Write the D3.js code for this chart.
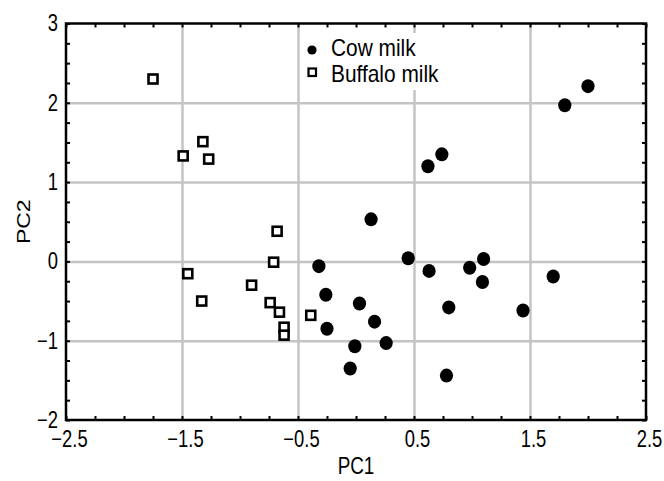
<!DOCTYPE html>
<html>
<head>
<meta charset="utf-8">
<script src="https://cdn.jsdelivr.net/npm/d3@7"></script>
<style>
  html, body { margin: 0; padding: 0; background: #fff; }
  svg { display: block; }
  text { font-family: "Liberation Sans", Arial, sans-serif; fill: #000; }
</style>
</head>
<body>
<svg id="chart" width="664" height="481"></svg>
<script>
// ---- data ----
const cowPC1 = [2.00, 1.80, 0.62, 0.74, 0.13, 0.45, -0.32, 0.63, 0.98, 1.10, 1.09, 1.70, 1.44, 0.80, -0.26, 0.03, 0.16, -0.25, 0.26, -0.01, -0.05, 0.78];
const cowPC2 = [2.21, 1.97, 1.20, 1.35, 0.53, 0.04, -0.06, -0.12, -0.08, 0.03, -0.26, -0.19, -0.62, -0.58, -0.42, -0.53, -0.76, -0.85, -1.03, -1.07, -1.35, -1.44];
const buffaloPC1 = [-1.75, -1.32, -1.49, -1.27, -0.68, -0.71, -1.45, -1.33, -0.90, -0.74, -0.66, -0.62, -0.62, -0.39];
const buffaloPC2 = [2.30, 1.51, 1.33, 1.29, 0.38, -0.01, -0.155, -0.50, -0.30, -0.52, -0.64, -0.83, -0.93, -0.68];
const xTickLabels = [-2.5, -1.5, -0.5, 0.5, 1.5, 2.5];
const yTickLabels = [-2, -1, 0, 1, 2, 3];
const xGrid = [-1.5, -0.5, 0.5, 1.5];
const yGrid = [-1, 0, 1, 2];
const seriesNames = ["Cow milk", "Buffalo milk"];

// ---- layout ----
const W = 664, H = 481;
const m = { left: 66, right: 18, top: 23.5, bottom: 61 };
const svg = d3.select("#chart");
const x = d3.scaleLinear().domain([-2.5, 2.5]).range([m.left, W - m.right]);
const y = d3.scaleLinear().domain([-2, 3]).range([H - m.bottom, m.top]);
const pw = W - m.left - m.right, ph = H - m.top - m.bottom;

// condense text horizontally (reference uses a narrow face)
function condense(sel, sx, dx) {
  sel.each(function () {
    const t = d3.select(this);
    const tx = +(t.attr("x") || 0) + (dx || 0), ty = +(t.attr("y") || 0);
    t.attr("x", 0).attr("y", 0).attr("transform", `translate(${tx},${ty}) scale(${sx},1)`);
  });
}

// gridlines
const grid = svg.append("g");
grid.append("g").attr("transform", `translate(0,${H - m.bottom})`)
  .call(d3.axisBottom(x).tickValues(xGrid).tickSize(-ph).tickFormat(""))
  .call(g => g.select(".domain").remove())
  .call(g => g.selectAll("line").attr("stroke", "#c4c4c4").attr("stroke-width", 2.5));
grid.append("g").attr("transform", `translate(${m.left},0)`)
  .call(d3.axisLeft(y).tickValues(yGrid).tickSize(-pw).tickFormat(""))
  .call(g => g.select(".domain").remove())
  .call(g => g.selectAll("line").attr("stroke", "#c4c4c4").attr("stroke-width", 2.5));

// legend background box
const lg = svg.append("g");
lg.append("rect").attr("x", 302).attr("y", 33).attr("width", 150).attr("height", 57).attr("fill", "#fff");

// minor inward ticks on all sides
const minorX = d3.range(-2.5, 2.5001, 0.25);
const minorY = d3.range(-2, 3.0001, 0.25);
function styleMinor(g) {
  g.select(".domain").remove();
  g.selectAll("line").attr("stroke", "#000").attr("stroke-width", 2);
}
svg.append("g").attr("transform", `translate(0,${H - m.bottom})`)
  .call(d3.axisBottom(x).tickValues(minorX).tickSize(-4).tickFormat("")).call(styleMinor);
svg.append("g").attr("transform", `translate(0,${m.top})`)
  .call(d3.axisTop(x).tickValues(minorX).tickSize(-4).tickFormat("")).call(styleMinor);
svg.append("g").attr("transform", `translate(${m.left},0)`)
  .call(d3.axisLeft(y).tickValues(minorY).tickSize(-4).tickFormat("")).call(styleMinor);
svg.append("g").attr("transform", `translate(${W - m.right},0)`)
  .call(d3.axisRight(y).tickValues(minorY).tickSize(-4).tickFormat("")).call(styleMinor);

// frame
svg.append("rect").attr("x", m.left).attr("y", m.top).attr("width", pw).attr("height", ph)
  .attr("fill", "none").attr("stroke", "#000").attr("stroke-width", 2.5);

// tick labels
const fmtX = d3.format(".1f"), fmtY = d3.format("d");
svg.append("g").attr("transform", `translate(0,${H - m.bottom})`)
  .call(d3.axisBottom(x).tickValues(xTickLabels).tickSize(0).tickPadding(11).tickFormat(fmtX))
  .call(g => g.select(".domain").remove())
  .call(g => g.selectAll("text").attr("font-size", 23).style("font-family", null).attr("fill", "#000").call(condense, 0.8, 3));
svg.append("g").attr("transform", `translate(${m.left},0)`)
  .call(d3.axisLeft(y).tickValues(yTickLabels).tickSize(0).tickPadding(8).tickFormat(fmtY))
  .call(g => g.select(".domain").remove())
  .call(g => g.selectAll("text").attr("font-size", 23).style("font-family", null).attr("fill", "#000").call(condense, 0.8, 0));

// axis titles
svg.append("text").attr("x", m.left + pw / 2).attr("y", 474).attr("text-anchor", "middle")
  .attr("font-size", 23).text("PC1").call(condense, 0.82, 0);
svg.append("text").attr("transform", `translate(30,${m.top + ph / 2}) rotate(-90) scale(1,0.82)`)
  .attr("text-anchor", "middle").attr("font-size", 23).text("PC2");

// points
const cow = cowPC1.map((v, i) => ({ x: v, y: cowPC2[i] }));
const buf = buffaloPC1.map((v, i) => ({ x: v, y: buffaloPC2[i] }));
svg.append("g").selectAll("ellipse").data(cow).join("ellipse")
  .attr("cx", d => x(d.x)).attr("cy", d => y(d.y)).attr("rx", 6.6).attr("ry", 7).attr("fill", "#000");
const s = 9;
svg.append("g").selectAll("rect").data(buf).join("rect")
  .attr("x", d => x(d.x) - s / 2).attr("y", d => y(d.y) - s / 2).attr("width", s).attr("height", s)
  .attr("fill", "#fff").attr("stroke", "#000").attr("stroke-width", 2.6);

// legend
lg.append("circle").attr("cx", 312).attr("cy", 50).attr("r", 4.6).attr("fill", "#000");
lg.append("rect").attr("x", 308.5).attr("y", 68.5).attr("width", 7.5).attr("height", 7.5)
  .attr("fill", "#fff").attr("stroke", "#000").attr("stroke-width", 2.2);
lg.append("text").attr("x", 331).attr("y", 56).attr("font-size", 24).text(seriesNames[0]).call(condense, 0.87, 0);
lg.append("text").attr("x", 331).attr("y", 82).attr("font-size", 24).text(seriesNames[1]).call(condense, 0.87, 0);
</script>
</body>
</html>
